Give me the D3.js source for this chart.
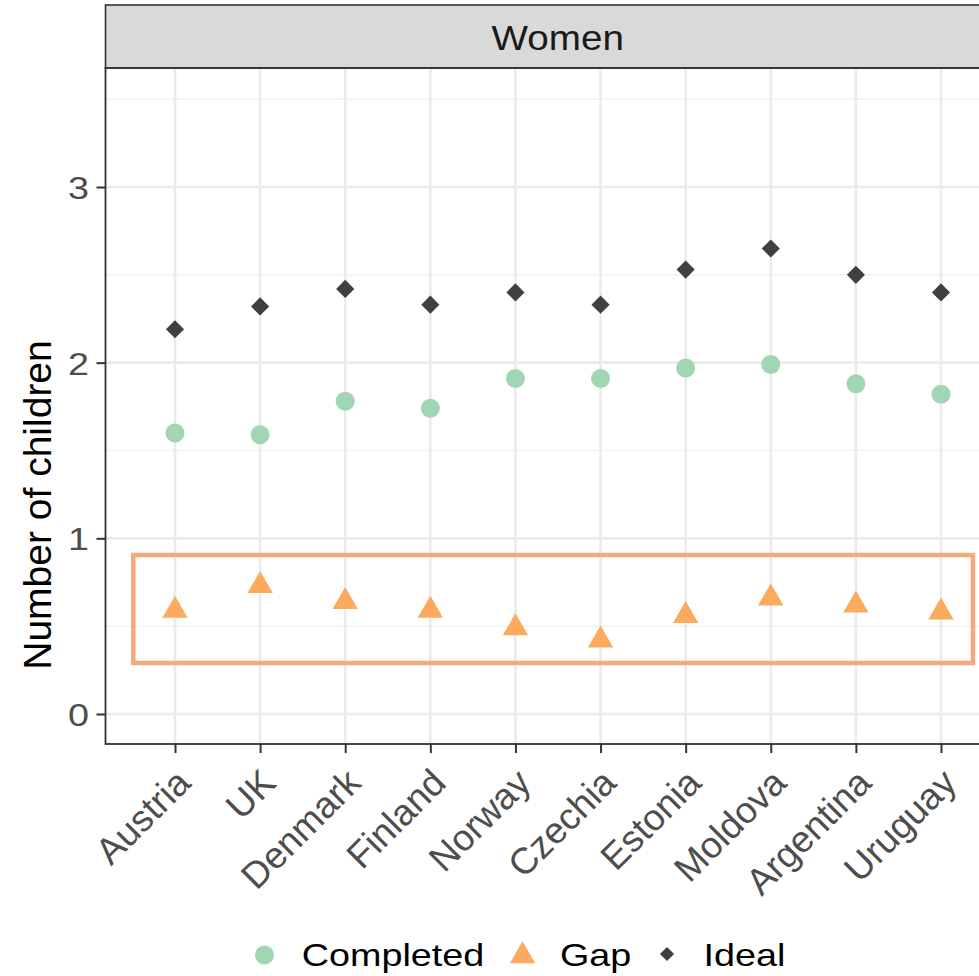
<!DOCTYPE html>
<html><head><meta charset="utf-8">
<script src="https://cdn.jsdelivr.net/npm/d3@7"></script>
<style>body{margin:0;background:#fff} text{font-family:"Liberation Sans",Arial,sans-serif}</style>
</head><body>
<svg id="c" width="979" height="976"></svg>
<script>
const countries = ["Austria","UK","Denmark","Finland","Norway","Czechia","Estonia","Moldova","Argentina","Uruguay"];
const completed = [1.60,1.59,1.78,1.74,1.91,1.91,1.97,1.99,1.88,1.82];
const gap       = [0.59,0.73,0.64,0.59,0.49,0.42,0.56,0.66,0.62,0.58];
const ideal     = [2.19,2.32,2.42,2.33,2.40,2.33,2.53,2.65,2.50,2.40];
const yTicks = [0,1,2,3];
const yMinor = [0.5,1.5,2.5,3.5];
const facetLabel = "Women";
const yTitle = "Number of children";
const legendItems = ["Completed","Gap","Ideal"];

const COL_C = "#A0D6B4", COL_G = "#FCAB5E", COL_I = "#404040", COL_BOX = "#F4AB7C";
const SX = 1.18;

const svg = d3.select("#c");
svg.append("rect").attr("width",979).attr("height",976).attr("fill","#fff");

const P = {left:105.5, right:1010, top:68, bottom:744};
const x = d3.scalePoint().domain(countries).range([175,941]);
const y = d3.scaleLinear().domain([0,3]).range([714,187]);

svg.append("clipPath").attr("id","pc").append("rect")
  .attr("x",P.left).attr("y",P.top).attr("width",P.right-P.left).attr("height",P.bottom-P.top);
const g = svg.append("g").attr("clip-path","url(#pc)");

// minor grid
g.selectAll(".mn").data(yMinor).join("line")
  .attr("x1",P.left).attr("x2",P.right).attr("y1",d=>y(d)).attr("y2",d=>y(d))
  .attr("stroke","#F2F2F2").attr("stroke-width",1.5);
// major grid
g.selectAll(".mj").data(yTicks).join("line")
  .attr("x1",P.left).attr("x2",P.right).attr("y1",d=>y(d)).attr("y2",d=>y(d))
  .attr("stroke","#EBEBEB").attr("stroke-width",2.6);
g.selectAll(".vx").data(countries).join("line")
  .attr("x1",d=>x(d)).attr("x2",d=>x(d)).attr("y1",P.top).attr("y2",P.bottom)
  .attr("stroke","#EBEBEB").attr("stroke-width",2.6);

// highlight box (annotation)
const step = x.step();
g.append("rect")
  .attr("x", x(countries[0]) - 0.49*step)
  .attr("y", y(0.905))
  .attr("width", (x(countries[countries.length-1]) + 0.375*step) - (x(countries[0]) - 0.49*step))
  .attr("height", y(0.29) - y(0.905))
  .attr("fill","none").attr("stroke",COL_BOX).attr("stroke-width",4.5);

const idx = d3.range(countries.length);
// points
g.selectAll(".c").data(idx).join("circle")
  .attr("cx",i=>x(countries[i])).attr("cy",i=>y(completed[i])).attr("r",9.5).attr("fill",COL_C);
const tri = d3.symbol(d3.symbolTriangle, 280);
g.selectAll(".t").data(idx).join("path")
  .attr("d",tri).attr("transform",i=>`translate(${x(countries[i])},${y(gap[i])})`).attr("fill",COL_G);
const dia = d3.symbol(d3.symbolSquare, 165);
g.selectAll(".d").data(idx).join("path")
  .attr("d",dia).attr("transform",i=>`translate(${x(countries[i])},${y(ideal[i])}) rotate(45)`).attr("fill",COL_I);

// strip
svg.append("rect").attr("x",P.left).attr("y",5).attr("width",P.right-P.left).attr("height",P.top-5)
  .attr("fill","#D9D9D9").attr("stroke","#333").attr("stroke-width",1.6);
svg.append("text").attr("transform",`translate(${(P.left+P.right)/2},50) scale(1.12,1)`)
  .attr("text-anchor","middle").attr("font-size",34.5).attr("fill","#1A1A1A").text(facetLabel);

// panel border
svg.append("rect").attr("x",P.left).attr("y",P.top).attr("width",P.right-P.left).attr("height",P.bottom-P.top)
  .attr("fill","none").attr("stroke","#333").attr("stroke-width",1.8);

// y axis
const ya = svg.append("g").attr("transform",`translate(${P.left},0)`)
  .call(d3.axisLeft(y).tickValues(yTicks).tickSize(9).tickFormat(d3.format("d")));
ya.select(".domain").remove();
ya.selectAll(".tick line").attr("stroke","#333").attr("stroke-width",2);
ya.selectAll(".tick text").attr("x",null).attr("dy",null)
  .attr("transform",`translate(-16.5,11.5) scale(${SX},1)`)
  .attr("font-size",32).attr("fill","#4D4D4D").attr("font-family",'"Liberation Sans",Arial,sans-serif');

// x axis
const xa = svg.append("g").attr("transform",`translate(0,${P.bottom})`)
  .call(d3.axisBottom(x).tickSize(9));
xa.select(".domain").remove();
xa.selectAll(".tick line").attr("stroke","#333").attr("stroke-width",2);
xa.selectAll(".tick text").attr("y",null).attr("dy",null)
  .attr("text-anchor","end")
  .attr("transform","translate(17,41) rotate(-45)")
  .attr("font-size",37).attr("fill","#4D4D4D").attr("font-family",'"Liberation Sans",Arial,sans-serif');

// y title
svg.append("text").attr("transform","translate(51,505) rotate(-90)")
  .attr("text-anchor","middle").attr("font-size",39).attr("fill","#000").text(yTitle);

// legend
const lg = svg.append("g");
lg.append("circle").attr("cx",264.5).attr("cy",955).attr("r",9.5).attr("fill",COL_C);
lg.append("path").attr("d",tri).attr("transform","translate(522.5,956)").attr("fill",COL_G);
lg.append("path").attr("d",d3.symbol(d3.symbolSquare,100)).attr("transform","translate(667,954) rotate(45)").attr("fill",COL_I);
const lx = [301.7, 560, 703.5];
legendItems.forEach((t,i)=>{
  lg.append("text").attr("transform",`translate(${lx[i]},966) scale(${SX},1)`)
    .attr("font-size",32).attr("fill","#000").text(t);
});
</script>
</body></html>
